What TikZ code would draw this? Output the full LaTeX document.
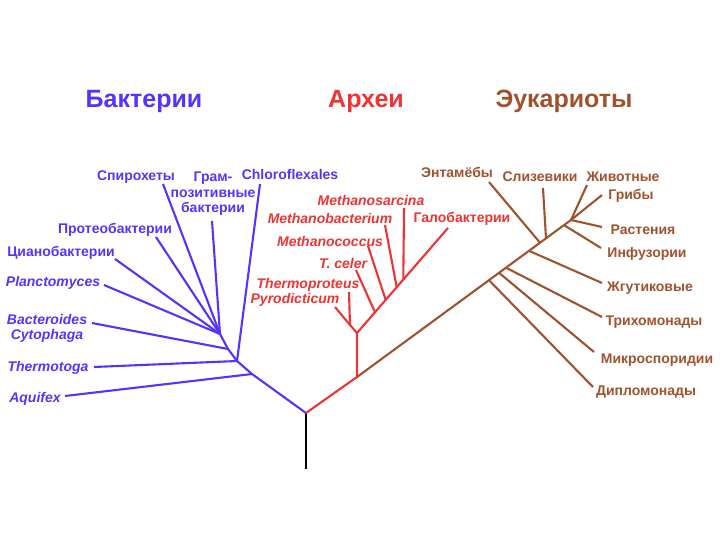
\documentclass[tikz,border=0pt]{standalone}
\usepackage{fontspec}
\setmainfont{Liberation Sans}
\definecolor{bcol}{RGB}{85,51,255}
\definecolor{acol}{RGB}{238,51,51}
\definecolor{ecol}{RGB}{160,82,45}
\tikzset{
  bline/.style={draw=bcol, line width=2.1pt},
  aline/.style={draw=acol, line width=2.1pt},
  eline/.style={draw=ecol, line width=2.1pt},
  lab/.style={inner sep=0pt, yshift=-1.5pt, font=\fontsize{14}{15.5}\selectfont\bfseries, align=center},
  itl/.style={font=\fontsize{14}{15}\selectfont\bfseries\itshape},
  blab/.style={lab, text=bcol},
  alab/.style={lab, text=acol},
  elab/.style={lab, text=ecol},
  ttl/.style={inner sep=0pt, font=\fontsize{25}{28}\selectfont\bfseries},
}
\begin{document}
\begin{tikzpicture}[x=1pt,y=-1pt]
\useasboundingbox (0,0) rectangle (720,540);
% titles
\node[ttl, text=bcol] (tb) at (144,101) {Бактерии};
\node[ttl, text=acol] (ta) at (366,101) {Археи};
\node[ttl, text=ecol] (te) at (564,101) {Эукариоты};
% root
\coordinate (R) at (306,413);
\coordinate (S) at (306,469);
\draw[line width=2.1pt, black] (R) -- (S);
% ---------- bacteria
\coordinate (B0) at (252,374);
\coordinate (B1) at (237,361);
\coordinate (B2) at (228,349);
\coordinate (B3) at (220,334);
\coordinate (tAq) at (65,396);
\coordinate (tTh) at (94,367);
\coordinate (tCh) at (260,184);
\coordinate (tBa) at (92,323);
\coordinate (tPl) at (104,285);
\coordinate (tCy) at (115,259);
\coordinate (tPr) at (156,237);
\coordinate (tSp) at (163,184);
\coordinate (tGr) at (212,221);
\draw[bline] (R) -- (B0) -- (B1) -- (B2) -- (B3);
\draw[bline] (B0) -- (tAq);
\draw[bline] (B1) -- (tTh);
\draw[bline] (B1) -- (tCh);
\draw[bline] (B2) -- (tBa);
\draw[bline] (B3) -- (tPl);
\draw[bline] (B3) -- (tCy);
\draw[bline] (B3) -- (tPr);
\draw[bline] (B3) -- (tSp);
\draw[bline] (B3) -- (tGr);
\node[blab] (lSp) at (136,176) {Спирохеты};
\node[blab] (lGr) at (213,192.5) {Грам-\\позитивные\\бактерии};
\node[blab] (lCh) at (290,173) {Chloroflexales};
\node[blab] (lPr) at (115,228) {Протеобактерии};
\node[blab] (lCy) at (61,251) {Цианобактерии};
\node[blab, itl] (lPl) at (53,281) {Planctomyces};
\node[blab, itl] (lBa) at (47,326.5) {Bacteroides\\Cytophaga};
\node[blab, itl] (lTh) at (48,366) {Thermotoga};
\node[blab, itl] (lAq) at (35,397) {Aquifex};
% ---------- archaea
\coordinate (A0) at (357,377);
\coordinate (A1) at (357,333);
\coordinate (A2) at (350,325);
\coordinate (tPy) at (335,307);
\coordinate (tTp) at (349,292);
\coordinate (jTc) at (375,312.2);
\coordinate (jMc) at (385.7,299.9);
\coordinate (jMb) at (396.7,287.2);
\coordinate (jMs) at (403.3,279.6);
\coordinate (tGa) at (448,228);
\coordinate (tTc) at (356,270);
\coordinate (tMc) at (368,246);
\coordinate (tMb) at (385,225);
\coordinate (tMs) at (404,208);
\draw[aline] (R) -- (A0) -- (A1) -- (tGa);
\draw[aline] (A1) -- (A2) -- (tPy);
\draw[aline] (A2) -- (tTp);
\draw[aline] (jTc) -- (tTc);
\draw[aline] (jMc) -- (tMc);
\draw[aline] (jMb) -- (tMb);
\draw[aline] (jMs) -- (tMs);
\node[alab, itl] (lMs) at (371,199) {Methanosarcina};
\node[alab, itl] (lMb) at (330,217) {Methanobacterium};
\node[alab] (lGa) at (462,217) {Галобактерии};
\node[alab, itl] (lMc) at (330,240) {Methanococcus};
\node[alab, itl] (lTc) at (343,262) {T. celer};
\node[alab, itl] (lTp) at (308,283) {Thermoproteus};
\node[alab, itl] (lPy) at (295,298) {Pyrodicticum};
% ---------- eukaryotes
\coordinate (E0) at (571,220);
\coordinate (jDi) at (489,280.2);
\coordinate (jMi) at (499,272.8);
\coordinate (jTr) at (506,267.7);
\coordinate (jFl) at (529,250.8);
\coordinate (jEn) at (540,242.7);
\coordinate (jSl) at (546,238.3);
\coordinate (jCi) at (564,225.1);
\coordinate (tDi) at (593,387);
\coordinate (tMi) at (594,352);
\coordinate (tTr) at (602,317);
\coordinate (tFl) at (602,283);
\coordinate (tEn) at (489,182);
\coordinate (tSl) at (543,188);
\coordinate (tCi) at (601,248);
\coordinate (tAn) at (587,185);
\coordinate (tFu) at (602,195);
\coordinate (tPa) at (602,227);
\draw[eline] (A0) -- (E0);
\draw[eline] (jDi) -- (tDi);
\draw[eline] (jMi) -- (tMi);
\draw[eline] (jTr) -- (tTr);
\draw[eline] (jFl) -- (tFl);
\draw[eline] (jEn) -- (tEn);
\draw[eline] (jSl) -- (tSl);
\draw[eline] (jCi) -- (tCi);
\draw[eline] (E0) -- (tAn);
\draw[eline] (E0) -- (tFu);
\draw[eline] (E0) -- (tPa);
\node[elab] (lEn) at (457,171) {Энтамёбы};
\node[elab] (lSl) at (540,175) {Слизевики};
\node[elab] (lAn) at (623,175) {Животные};
\node[elab] (lFu) at (631,194) {Грибы};
\node[elab] (lPa) at (643,228) {Растения};
\node[elab] (lCi) at (647,252) {Инфузории};
\node[elab] (lFl) at (650,287) {Жгутиковые};
\node[elab] (lTr) at (654,321) {Трихомонады};
\node[elab] (lMi) at (657,359) {Микроспоридии};
\node[elab] (lDi) at (646,391) {Дипломонады};
\end{tikzpicture}
\end{document}
